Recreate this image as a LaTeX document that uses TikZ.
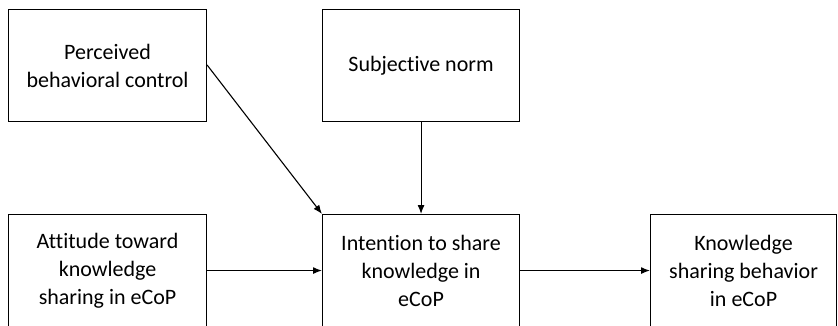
\documentclass[tikz,border=0pt]{standalone}
\usepackage{fontspec}
\setmainfont{Carlito}[Ligatures=NoCommon]
\usetikzlibrary{arrows.meta}
\begin{document}
\begin{tikzpicture}[x=1pt,y=-1pt,
  box/.style={draw, line width=1.1pt, minimum width=197pt, minimum height=112pt, inner sep=0pt, align=center, font=\fontsize{22}{28}\selectfont, anchor=north west},
  arr/.style={line width=1.1pt, -{Latex[length=9pt,width=7pt]}}]
\useasboundingbox (0,0) rectangle (838,326);
\node[box, minimum width=198pt] (pbc) at (8,9) {Perceived\\behavioral control};
\node[box] (sn) at (322,9) {Subjective norm};
\node[box, minimum width=198pt] (att) at (8,214) {Attitude toward\\knowledge\\sharing in eCoP};
\node[box] (int) at (322,214) {Intention to share\\knowledge in\\eCoP};
\node[box, minimum width=186pt] (ksb) at (650,214) {Knowledge\\sharing behavior\\in eCoP};
\draw[arr] (pbc.east |- 0,65) -- (int.north west);
\draw[arr] (sn.south) -- (int.north);
\draw[arr] (att.east) -- (int.west);
\draw[arr] (int.east) -- (ksb.west);
\end{tikzpicture}
\end{document}
